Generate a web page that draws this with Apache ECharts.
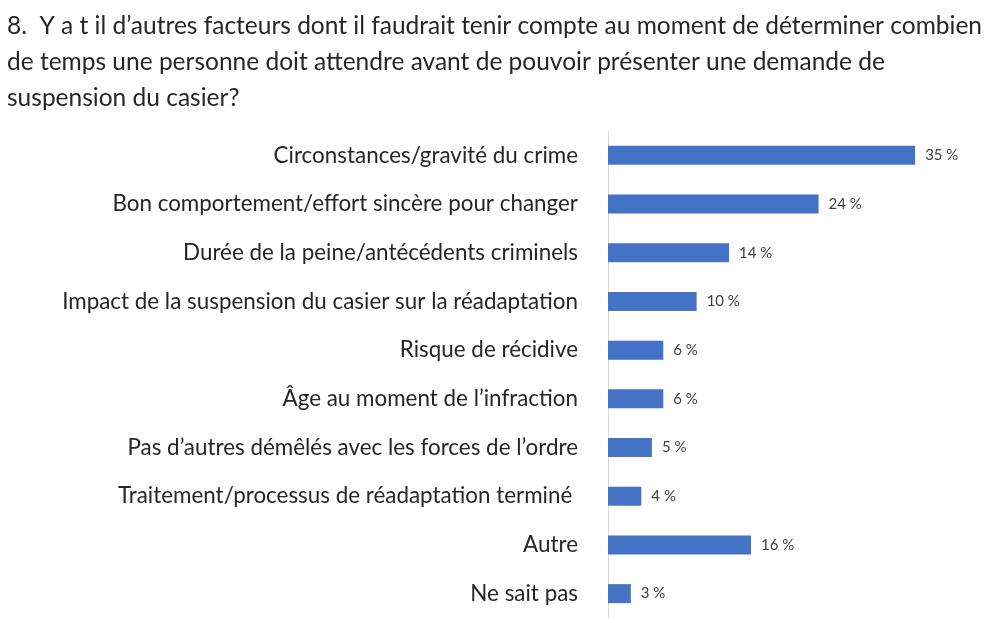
<!DOCTYPE html>
<html>
<head>
<meta charset="utf-8">
<script src="https://cdn.jsdelivr.net/npm/echarts@6/dist/echarts.min.js"></script>
<style>
  html, body { margin: 0; padding: 0; background: #fff; }
  #chart { width: 1000px; height: 623px; }
</style>
</head>
<body>
<div id="chart"></div>
<script>
const titleLines = [
    '8.  Y a t il d\u2019autres facteurs dont il faudrait tenir compte au moment de déterminer combien',
    'de temps une personne doit attendre avant de pouvoir présenter une demande de',
    'suspension du casier?'
]

const categories = [
    'Circonstances/gravité du crime',
    'Bon comportement/effort sincère pour changer',
    'Durée de la peine/antécédents criminels',
    'Impact de la suspension du casier sur la réadaptation',
    'Risque de récidive',
    'Âge au moment de l\u2019infraction',
    'Pas d\u2019autres démêlés avec les forces de l\u2019ordre',
    'Traitement/processus de réadaptation terminé ',
    'Autre',
    'Ne sait pas'
]

// percent (labels are rounded)
const values = [35.0, 24.0, 13.8, 10.1, 6.3, 6.3, 5.0, 3.8, 16.3, 2.6]

const myChart = echarts.init(document.getElementById('chart'))

myChart.setOption({
    animation: false,
    title: {
        text: titleLines.join('\n'),
        left: 7,
        top: 8,
        padding: 0,
        textStyle: {
            fontFamily: 'Lato',
            fontSize: 24.5,
            fontWeight: 'normal',
            color: '#262626',
            lineHeight: 36
        }
    },
    grid: {
        left: 608,
        right: 41,
        top: 131,
        bottom: 5
    },
    xAxis: {
        type: 'value',
        min: 0,
        max: 40,
        show: false
    },
    yAxis: {
        type: 'category',
        data: categories,
        inverse: true,
        axisLine: { show: true, lineStyle: { color: '#d9d9d9', width: 1 } },
        axisTick: { show: false },
        axisLabel: {
            margin: 30,
            fontFamily: 'Lato',
            fontSize: 22.4,
            color: '#262626'
        }
    },
    series: [
        {
            type: 'bar',
            data: values,
            barWidth: 19,
            itemStyle: { color: '#4472c4' },
            label: {
                show: true,
                position: 'right',
                distance: 10,
                fontFamily: 'Lato',
                fontSize: 15,
                color: '#404040',
                formatter: (p) => Math.round(p.value) + ' %'
            }
        }
    ]
})
</script>
</body>
</html>
